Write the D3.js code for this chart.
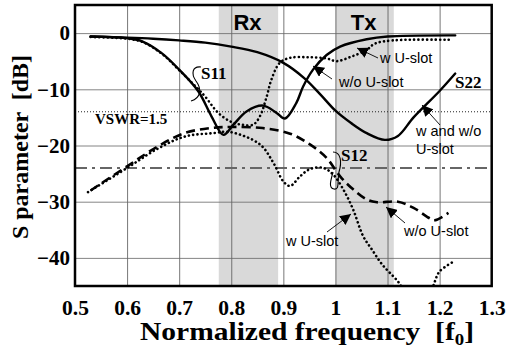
<!DOCTYPE html>
<html>
<head>
<meta charset="utf-8">
<script src="https://cdn.jsdelivr.net/npm/d3@7"></script>
<style>
  body { margin: 0; background: #fff; }
  svg { display: block; }
  text { white-space: pre; }
</style>
</head>
<body>
<script>
// ticks
const freqTicks = [0.5, 0.6, 0.7, 0.8, 0.9, 1.0, 1.1, 1.2, 1.3];
const dbTicks = [0, -10, -20, -30, -40];

// shaded bands (normalized frequency)
const rxBand = [0.776, 0.89];
const txBand = [1.0, 1.112];

// reference levels
const vswrLevel = -14;
const isoLevel = -24;

// S22 (same with and without U-slot)
const s22Freq = [0.53, 0.6, 0.65, 0.7, 0.75, 0.8, 0.85, 0.9, 0.94, 0.97, 1.0, 1.03, 1.06, 1.095, 1.12, 1.15, 1.2, 1.23];
const s22 = [-0.6, -0.8, -1.0, -1.3, -1.7, -2.4, -3.4, -5.3, -8.0, -10.8, -13.8, -16.0, -17.8, -19.0, -18.3, -15.0, -10.3, -7.2];

// S11 without U-slot
const s11WoFreq = [0.53, 0.6, 0.63, 0.667, 0.7, 0.737, 0.762, 0.785, 0.804, 0.83, 0.861, 0.887, 0.903, 0.925, 0.938, 0.957, 0.983, 1.009, 1.06, 1.1, 1.23];
const s11Wo = [-0.6, -0.9, -1.5, -3.6, -6.5, -10.4, -14.8, -18.1, -16.3, -13.9, -12.9, -14.2, -15.2, -12.4, -9.5, -6.5, -3.9, -2.4, -1.1, -0.6, -0.4];

// S11 with U-slot
const s11WFreq = [0.53, 0.6, 0.63, 0.667, 0.7, 0.737, 0.75, 0.775, 0.8, 0.82, 0.842, 0.855, 0.868, 0.877, 0.893, 0.913, 0.95, 0.983, 1.002, 1.03, 1.06, 1.075, 1.11, 1.22];
const s11W = [-0.7, -1.0, -1.6, -3.7, -6.6, -10.0, -11.3, -14.2, -15.8, -16.3, -16.3, -14.8, -11.3, -8.3, -5.3, -4.4, -4.3, -4.5, -5.0, -4.2, -3.0, -1.9, -1.3, -1.2];

// S12 without U-slot
const s12WoFreq = [0.53, 0.6, 0.66, 0.71, 0.76, 0.8, 0.86, 0.913, 0.951, 0.983, 1.009, 1.034, 1.06, 1.08, 1.12, 1.15, 1.18, 1.19, 1.217];
const s12Wo = [-28.0, -23.7, -20.1, -17.8, -16.9, -16.7, -16.9, -17.9, -19.8, -22.2, -25.5, -27.8, -29.6, -30.1, -30.0, -31.1, -32.9, -33.3, -32.0];

// S12 with U-slot
const s12WFreq = [0.525, 0.6, 0.66, 0.711, 0.766, 0.7975, 0.855, 0.881, 0.9, 0.913, 0.932, 0.951, 0.977, 0.996, 1.015, 1.034, 1.053, 1.07, 1.09, 1.12, 1.15, 1.18, 1.19, 1.2, 1.228];
const s12W = [-28.3, -24.0, -20.5, -18.4, -17.8, -17.6, -19.8, -23.1, -26.4, -27.2, -25.5, -24.2, -24.0, -25.2, -27.8, -31.4, -36.1, -38.5, -41.2, -44.2, -48, -47, -44.4, -42.4, -40.6];

const W = 507, H = 347;
const pLeft = 75, pRight = 491.7, pTop = 5, pBottom = 286;

const svg = d3.select("body").append("svg").attr("width", W).attr("height", H);

const x = d3.scaleLinear().domain([0.5, 1.3]).range([pLeft, pRight]);
const y = d3.scaleLinear().domain([-45, 5]).range([pBottom, pTop]);

// bands
svg.selectAll("rect.band")
  .data([rxBand, txBand])
  .enter().append("rect")
  .attr("class", "band")
  .attr("x", d => x(d[0]))
  .attr("width", d => x(d[1]) - x(d[0]))
  .attr("y", pTop)
  .attr("height", pBottom - pTop)
  .attr("fill", "#d9d9d9");

// grid
svg.append("g")
  .attr("transform", `translate(0,${pBottom})`)
  .call(d3.axisBottom(x).tickValues(freqTicks.slice(1, -1)).tickSize(-(pBottom - pTop)).tickFormat(""))
  .call(g => g.select(".domain").remove())
  .call(g => g.selectAll("line").attr("stroke", "#555").attr("stroke-width", 0.8));

svg.append("g")
  .attr("transform", `translate(${pLeft},0)`)
  .call(d3.axisLeft(y).tickValues(dbTicks).tickSize(-(pRight - pLeft)).tickFormat(""))
  .call(g => g.select(".domain").remove())
  .call(g => g.selectAll("line").attr("stroke", "#666").attr("stroke-width", 0.8));

// reference lines
svg.append("line")
  .attr("x1", pLeft).attr("x2", pRight)
  .attr("y1", y(vswrLevel)).attr("y2", y(vswrLevel))
  .attr("stroke", "#222").attr("stroke-width", 1).attr("stroke-dasharray", "1,2");

svg.append("line")
  .attr("x1", pLeft).attr("x2", pRight)
  .attr("y1", y(isoLevel)).attr("y2", y(isoLevel))
  .attr("stroke", "#666").attr("stroke-width", 2).attr("stroke-dasharray", "12,5,3,5");

// curves
svg.append("clipPath").attr("id", "plot")
  .append("rect").attr("x", pLeft).attr("y", pTop).attr("width", pRight - pLeft).attr("height", pBottom - pTop);

const line = d3.line().x(d => x(d[0])).y(d => y(d[1])).curve(d3.curveCatmullRom.alpha(0.5));
const series = [
  { f: s12WoFreq, v: s12Wo, dash: "9,5", cap: "butt" },
  { f: s12WFreq, v: s12W, dash: "0.1,4.2", cap: "round" },
  { f: s11WFreq, v: s11W, dash: "0.1,4.2", cap: "round" },
  { f: s11WoFreq, v: s11Wo, dash: null, cap: "round" },
  { f: s22Freq, v: s22, dash: null, cap: "round" }
];

svg.append("g").attr("clip-path", "url(#plot)")
  .selectAll("path")
  .data(series)
  .enter().append("path")
  .attr("d", d => line(d.f.map((f, i) => [f, d.v[i]])))
  .attr("fill", "none")
  .attr("stroke", "#000")
  .attr("stroke-width", d => d.dash ? 2.6 : 2.4)
  .attr("stroke-linecap", d => d.cap)
  .attr("stroke-dasharray", d => d.dash);

// frame
svg.append("rect")
  .attr("x", pLeft).attr("y", pTop).attr("width", pRight - pLeft).attr("height", pBottom - pTop)
  .attr("fill", "none").attr("stroke", "#000").attr("stroke-width", 2.5);

// tick labels
const fmtF = d => d === 1 ? "1" : d3.format(".1f")(d);
svg.append("g")
  .attr("transform", `translate(0,${pBottom})`)
  .call(d3.axisBottom(x).tickValues(freqTicks).tickSize(0).tickPadding(14).tickFormat(fmtF))
  .call(g => g.select(".domain").remove())
  .call(g => g.selectAll("text").attr("font-family", "Liberation Serif").attr("font-weight", "bold").attr("font-size", 21.5).attr("fill", "#000"));

svg.append("g")
  .attr("transform", `translate(${pLeft},0)`)
  .call(d3.axisLeft(y).tickValues(dbTicks).tickSize(0).tickPadding(5))
  .call(g => g.select(".domain").remove())
  .call(g => g.selectAll("text").attr("font-family", "Liberation Serif").attr("font-weight", "bold").attr("font-size", 21).attr("fill", "#000"));

// axis titles
const xt = svg.append("text")
  .attr("x", 140).attr("y", 340)
  .attr("font-family", "Liberation Serif").attr("font-weight", "bold").attr("font-size", 25)
  .attr("textLength", 334).attr("lengthAdjust", "spacingAndGlyphs");
xt.append("tspan").text("Normalized frequency  [f");
xt.append("tspan").attr("font-size", 16).attr("dy", 5).text("0");
xt.append("tspan").attr("dy", -5).text("]");

svg.append("text")
  .attr("transform", "translate(28,147) rotate(-90)")
  .attr("text-anchor", "middle")
  .attr("font-family", "Liberation Serif").attr("font-weight", "bold").attr("font-size", 24)
  .text("S parameter  [dB]");

// band labels
svg.selectAll("text.band")
  .data([["Rx", rxBand], ["Tx", txBand]])
  .enter().append("text")
  .attr("x", d => x((d[1][0] + d[1][1]) / 2) - 1)
  .attr("y", 30)
  .attr("text-anchor", "middle")
  .attr("font-family", "Liberation Sans").attr("font-weight", "bold").attr("font-size", 22)
  .text(d => d[0]);

// serif labels
const serif = (t, px, py, size) => svg.append("text").attr("x", px).attr("y", py)
  .attr("font-family", "Liberation Serif").attr("font-weight", "bold").attr("font-size", size).text(t);
serif("S11", 201, 79, 17);
serif("S22", 455, 88, 17);
serif("S12", 341, 161, 17);
serif("VSWR=1.5", 95, 124, 15);

// braces
svg.append("path")
  .attr("d", "M201,67 C192,66 191,74 196,81 C202,89 201,98 191,101")
  .attr("fill", "none").attr("stroke", "#000").attr("stroke-width", 1.1);
svg.append("path")
  .attr("d", "M333,152 C341,152 342,162 339,172 C337,182 340,190 334,189 C328,188 331,180 333,172")
  .attr("fill", "none").attr("stroke", "#000").attr("stroke-width", 1.1);

// arrows
svg.append("defs").append("marker")
  .attr("id", "ah").attr("viewBox", "0 0 10 10").attr("refX", 10).attr("refY", 5)
  .attr("markerWidth", 11).attr("markerHeight", 11).attr("markerUnits", "userSpaceOnUse")
  .attr("orient", "auto")
  .append("path").attr("d", "M0,0 L10,5 L0,10 z").attr("fill", "#000");

const notes = [
  { t: ["w U-slot"], tx: 380, ty: 63, from: [378, 58], to: [357, 48] },
  { t: ["w/o U-slot"], tx: 339, ty: 87, from: [332, 79], to: [313, 66] },
  { t: ["w and w/o", "U-slot"], tx: 416, ty: 136, from: [440, 125], to: [422, 105] },
  { t: ["w U-slot"], tx: 286, ty: 246, from: [327, 232], to: [351, 214] },
  { t: ["w/o U-slot"], tx: 404, ty: 236, from: [405, 223], to: [386, 207] }
];

notes.forEach(n => {
  svg.append("line")
    .attr("x1", n.from[0]).attr("y1", n.from[1]).attr("x2", n.to[0]).attr("y2", n.to[1])
    .attr("stroke", "#000").attr("stroke-width", 0.9).attr("marker-end", "url(#ah)");
  n.t.forEach((s, i) => {
    svg.append("text").attr("x", n.tx).attr("y", n.ty + i * 18)
      .attr("font-family", "Liberation Sans").attr("font-size", 14.5).text(s);
  });
});
</script>
</body>
</html>
